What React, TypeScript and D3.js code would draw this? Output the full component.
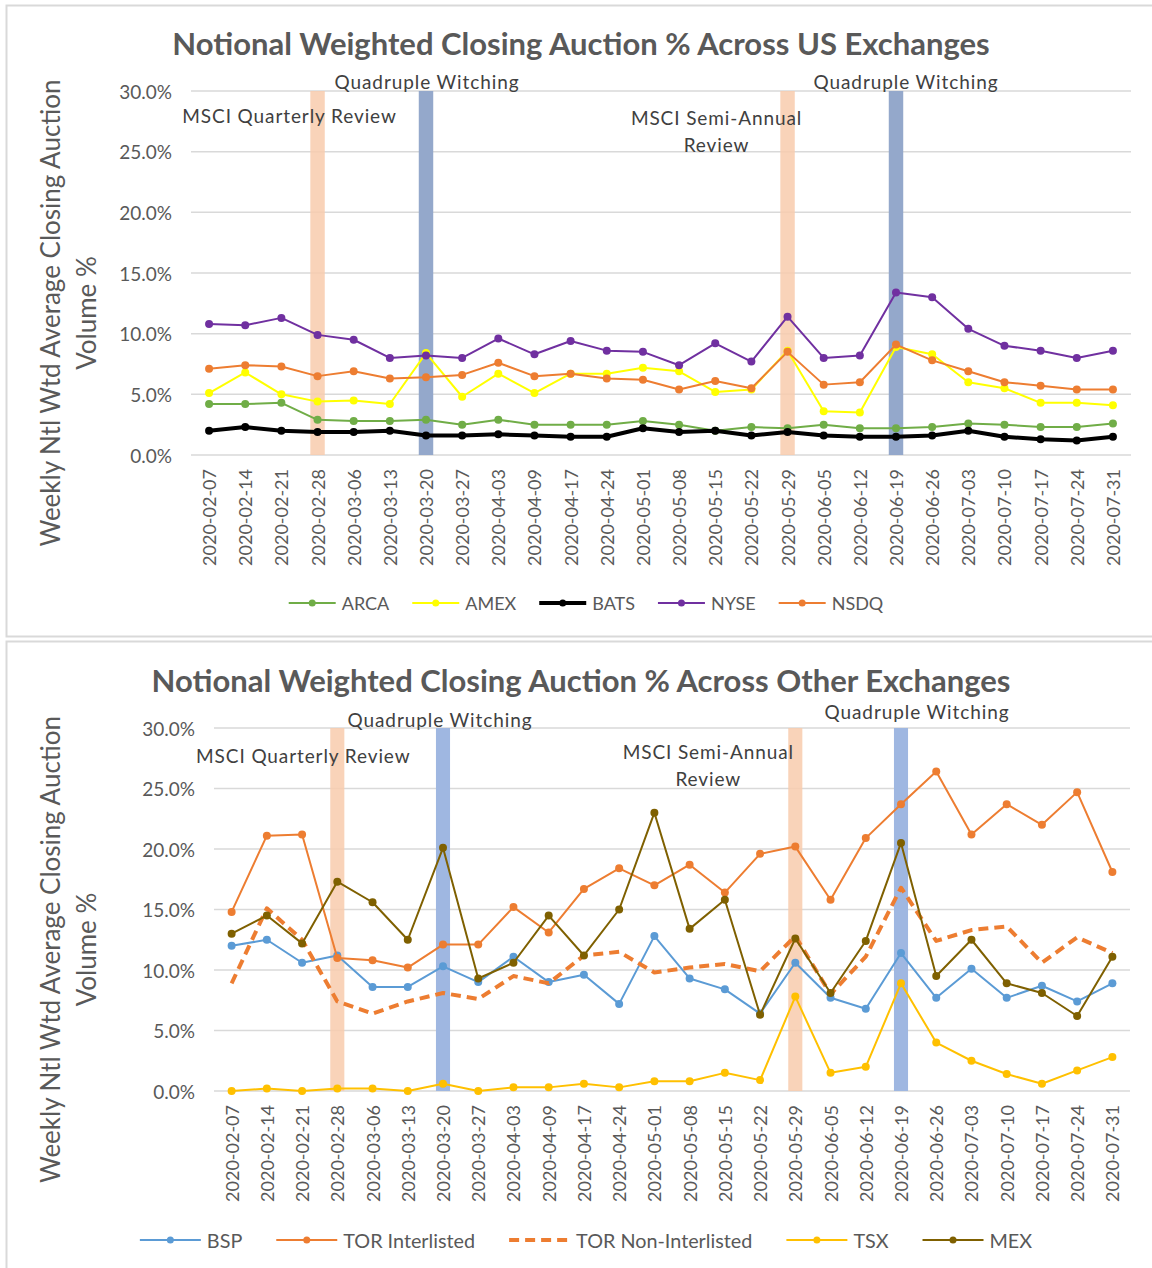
import React from "react";
import * as d3 from "d3";

// week-ending dates shared by both charts
const DATES = [
  "2020-02-07", "2020-02-14", "2020-02-21", "2020-02-28", "2020-03-06", "2020-03-13",
  "2020-03-20", "2020-03-27", "2020-04-03", "2020-04-09", "2020-04-17", "2020-04-24",
  "2020-05-01", "2020-05-08", "2020-05-15", "2020-05-22", "2020-05-29", "2020-06-05",
  "2020-06-12", "2020-06-19", "2020-06-26", "2020-07-03", "2020-07-10", "2020-07-17",
  "2020-07-24", "2020-07-31"
];
const Y_TICKS = [0, 5, 10, 15, 20, 25, 30];

// US exchanges (%)
const ARCA = [4.2, 4.2, 4.3, 2.9, 2.8, 2.8, 2.9, 2.5, 2.9, 2.5, 2.5, 2.5, 2.8, 2.5, 2.0, 2.3, 2.2, 2.5, 2.2, 2.2, 2.3, 2.6, 2.5, 2.3, 2.3, 2.6];
const AMEX = [5.1, 6.8, 5.0, 4.4, 4.5, 4.2, 8.4, 4.8, 6.7, 5.1, 6.7, 6.7, 7.2, 6.9, 5.2, 5.4, 8.6, 3.6, 3.5, 8.9, 8.3, 6.0, 5.5, 4.3, 4.3, 4.1];
const BATS = [2.0, 2.3, 2.0, 1.9, 1.9, 2.0, 1.6, 1.6, 1.7, 1.6, 1.5, 1.5, 2.2, 1.9, 2.0, 1.6, 1.9, 1.6, 1.5, 1.5, 1.6, 2.0, 1.5, 1.3, 1.2, 1.5];
const NYSE = [10.8, 10.7, 11.3, 9.9, 9.5, 8.0, 8.2, 8.0, 9.6, 8.3, 9.4, 8.6, 8.5, 7.4, 9.2, 7.7, 11.4, 8.0, 8.2, 13.4, 13.0, 10.4, 9.0, 8.6, 8.0, 8.6];
const NSDQ = [7.1, 7.4, 7.3, 6.5, 6.9, 6.3, 6.4, 6.6, 7.6, 6.5, 6.7, 6.3, 6.2, 5.4, 6.1, 5.5, 8.5, 5.8, 6.0, 9.1, 7.8, 6.9, 6.0, 5.7, 5.4, 5.4];

// other exchanges (%)
const BSP = [12.0, 12.5, 10.6, 11.2, 8.6, 8.6, 10.3, 9.0, 11.1, 9.0, 9.6, 7.2, 12.8, 9.3, 8.4, 6.4, 10.6, 7.7, 6.8, 11.4, 7.7, 10.1, 7.7, 8.7, 7.4, 8.9];
const TOR_INTER = [14.8, 21.1, 21.2, 11.0, 10.8, 10.2, 12.1, 12.1, 15.2, 13.1, 16.7, 18.4, 17.0, 18.7, 16.4, 19.6, 20.2, 15.8, 20.9, 23.7, 26.4, 21.2, 23.7, 22.0, 24.7, 18.1];
const TOR_NON = [8.9, 15.1, 12.5, 7.4, 6.4, 7.4, 8.1, 7.6, 9.5, 8.9, 11.2, 11.5, 9.8, 10.2, 10.5, 9.9, 12.8, 8.0, 11.1, 16.8, 12.4, 13.3, 13.6, 10.6, 12.7, 11.4];
const TSX = [0.0, 0.2, 0.0, 0.2, 0.2, 0.0, 0.6, 0.0, 0.3, 0.3, 0.6, 0.3, 0.8, 0.8, 1.5, 0.9, 7.8, 1.5, 2.0, 8.9, 4.0, 2.5, 1.4, 0.6, 1.7, 2.8];
const MEX = [13.0, 14.5, 12.2, 17.3, 15.6, 12.5, 20.1, 9.3, 10.6, 14.5, 11.2, 15.0, 23.0, 13.4, 15.8, 6.3, 12.6, 8.1, 12.4, 20.5, 9.5, 12.5, 8.9, 8.1, 6.2, 11.1];

// event weeks highlighted with bars
const MSCI_WEEKS = ["2020-02-28", "2020-05-29"];
const WITCHING_WEEKS = ["2020-03-20", "2020-06-19"];

const FONT = "Lato, 'Open Sans', sans-serif";
const TEXT = "#595959";
const GRID = "#d9d9d9";

const US_SERIES = [
  { name: "ARCA", values: ARCA, color: "#70ad47", width: 2 },
  { name: "AMEX", values: AMEX, color: "#ffff00", width: 2 },
  { name: "BATS", values: BATS, color: "#000000", width: 4 },
  { name: "NYSE", values: NYSE, color: "#7030a0", width: 2 },
  { name: "NSDQ", values: NSDQ, color: "#ed7d31", width: 2 }
];
const OTHER_SERIES = [
  { name: "BSP", values: BSP, color: "#5b9bd5", width: 2 },
  { name: "TOR Interlisted", values: TOR_INTER, color: "#ed7d31", width: 2 },
  { name: "TOR Non-Interlisted", values: TOR_NON, color: "#ed7d31", width: 4, dash: "10,6", noMarker: true },
  { name: "TSX", values: TSX, color: "#ffc000", width: 2 },
  { name: "MEX", values: MEX, color: "#7f6000", width: 2 }
];

let _ctx: CanvasRenderingContext2D | null = null;
function textWidth(s: string, size: number) {
  if (!_ctx) _ctx = document.createElement("canvas").getContext("2d");
  if (!_ctx) return s.length * size * 0.5;
  _ctx.font = `${size}px Lato`;
  return _ctx.measureText(s).width;
}

function Chart(props: any) {
  const { title, series, plot, witchColor, notes, legend } = props;
  const { left, right, ptop, pbottom } = plot;

  const x = d3.scaleBand().domain(DATES).range([left, right]);
  const cx = (d: string) => (x(d) as number) + x.bandwidth() / 2;
  const y = d3.scaleLinear().domain([0, 30]).range([pbottom, ptop]);
  const barW = x.bandwidth() * 0.4;

  const line = d3
    .line<number>()
    .x((_, i) => cx(DATES[i]))
    .y(d => y(d));

  // legend layout, centred under the chart
  const items = series.map((s: any) => ({ ...s, tw: textWidth(s.name, legend.size) }));
  const itemW = (it: any) => legend.line + 6 + it.tw;
  const total = d3.sum(items, itemW) + legend.gap * (items.length - 1);
  let cursor = 586 - total / 2;

  const yTitleY = (ptop + pbottom) / 2 + 40;

  return (
    <g>
      <text
        x={581}
        y={plot.titleY}
        textAnchor="middle"
        fontFamily={FONT}
        fontWeight="bold"
        fontSize={31}
        fill={TEXT}
      >
        {title}
      </text>

      {/* y axis title */}
      <g fontFamily={FONT} fontSize={26} fill={TEXT} textAnchor="middle">
        <text transform={`translate(50,${yTitleY}) rotate(-90)`} dominantBaseline="central">
          Weekly Ntl Wtd Average Closing Auction
        </text>
        <text transform={`translate(86,${yTitleY}) rotate(-90)`} dominantBaseline="central">
          Volume %
        </text>
      </g>

      {/* gridlines + y ticks */}
      {Y_TICKS.map(t => (
        <g key={t}>
          <line x1={left} x2={right} y1={y(t)} y2={y(t)} stroke={GRID} strokeWidth={1.5} />
          <text
            x={left - 19}
            y={y(t)}
            textAnchor="end"
            dominantBaseline="central"
            fontFamily={FONT}
            fontSize={19}
            fill={TEXT}
          >
            {d3.format(".1f")(t) + "%"}
          </text>
        </g>
      ))}

      {/* x tick labels */}
      {DATES.map(d => (
        <text
          key={d}
          transform={`translate(${cx(d)},${pbottom + 14}) rotate(-90)`}
          textAnchor="end"
          dominantBaseline="central"
          fontFamily={FONT}
          fontSize={18}
          fill={TEXT}
        >
          {d}
        </text>
      ))}

      {/* event bars */}
      {MSCI_WEEKS.map(d => (
        <rect key={d} x={cx(d) - barW / 2} width={barW} y={y(30)} height={y(0) - y(30)} fill="#f8cbad" opacity={0.85} />
      ))}
      {WITCHING_WEEKS.map(d => (
        <rect key={d} x={cx(d) - barW / 2} width={barW} y={y(30)} height={y(0) - y(30)} fill={witchColor} />
      ))}

      {/* annotations */}
      {notes.map((n: any, i: number) =>
        n.lines.map((l: string, j: number) => (
          <text
            key={`${i}-${j}`}
            x={cx(n.date) + n.dx}
            y={ptop + n.dy + j * 27}
            textAnchor="middle"
            fontFamily={FONT}
            fontSize={19}
            letterSpacing={0.9}
            fill="#404040"
          >
            {l}
          </text>
        ))
      )}

      {/* series */}
      {series.map((s: any) => (
        <g key={s.name}>
          <path
            d={line(s.values) as string}
            fill="none"
            stroke={s.color}
            strokeWidth={s.width}
            strokeDasharray={s.dash}
            strokeLinejoin="round"
          />
          {!s.noMarker &&
            s.values.map((v: number, i: number) => (
              <circle key={i} cx={cx(DATES[i])} cy={y(v)} r={4} fill={s.color} />
            ))}
        </g>
      ))}

      {/* legend */}
      {items.map((it: any) => {
        const x0 = cursor;
        cursor += itemW(it) + legend.gap;
        return (
          <g key={it.name}>
            <line
              x1={x0}
              x2={x0 + legend.line}
              y1={legend.y}
              y2={legend.y}
              stroke={it.color}
              strokeWidth={it.width}
              strokeDasharray={it.dash}
            />
            {!it.noMarker && <circle cx={x0 + legend.line / 2} cy={legend.y} r={3.5} fill={it.color} />}
            <text
              x={x0 + legend.line + 6}
              y={legend.y}
              dominantBaseline="central"
              fontFamily={FONT}
              fontSize={legend.size}
              fill={TEXT}
            >
              {it.name}
            </text>
          </g>
        );
      })}
    </g>
  );
}

export default function App() {
  const usNotes = [
    { lines: ["Quadruple Witching"], date: "2020-03-20", dx: 1, dy: -2 },
    { lines: ["MSCI Quarterly Review"], date: "2020-02-28", dx: -28, dy: 32 },
    { lines: ["MSCI Semi-Annual", "Review"], date: "2020-05-29", dx: -71, dy: 34 },
    { lines: ["Quadruple Witching"], date: "2020-06-19", dx: 10, dy: -2 }
  ];
  const otherNotes = [
    { lines: ["Quadruple Witching"], date: "2020-03-20", dx: -3, dy: -1 },
    { lines: ["MSCI Quarterly Review"], date: "2020-02-28", dx: -34, dy: 35 },
    { lines: ["MSCI Semi-Annual", "Review"], date: "2020-05-29", dx: -87, dy: 31 },
    { lines: ["Quadruple Witching"], date: "2020-06-19", dx: 16, dy: -9 }
  ];

  return (
    <svg
      width={1152}
      height={1268}
      style={{ position: "absolute", left: 0, top: 0, background: "#fff" }}
    >
      <rect x={6.5} y={5.5} width={1160} height={631} fill="#fff" stroke={GRID} strokeWidth={2} />
      <rect x={6.5} y={641.5} width={1160} height={640} fill="#fff" stroke={GRID} strokeWidth={2} />

      <Chart
        title="Notional Weighted Closing Auction % Across US Exchanges"
        series={US_SERIES}
        witchColor="#94a8cb"
        notes={usNotes}
        legend={{ y: 603, size: 18, line: 47, gap: 23 }}
        plot={{ left: 191, right: 1131, ptop: 91, pbottom: 455, titleY: 55 }}
      />
      <Chart
        title="Notional Weighted Closing Auction % Across Other Exchanges"
        series={OTHER_SERIES}
        witchColor="#9fb7e1"
        notes={otherNotes}
        legend={{ y: 1240, size: 19.8, line: 61, gap: 34 }}
        plot={{ left: 214, right: 1130, ptop: 728, pbottom: 1091, titleY: 692 }}
      />
    </svg>
  );
}
